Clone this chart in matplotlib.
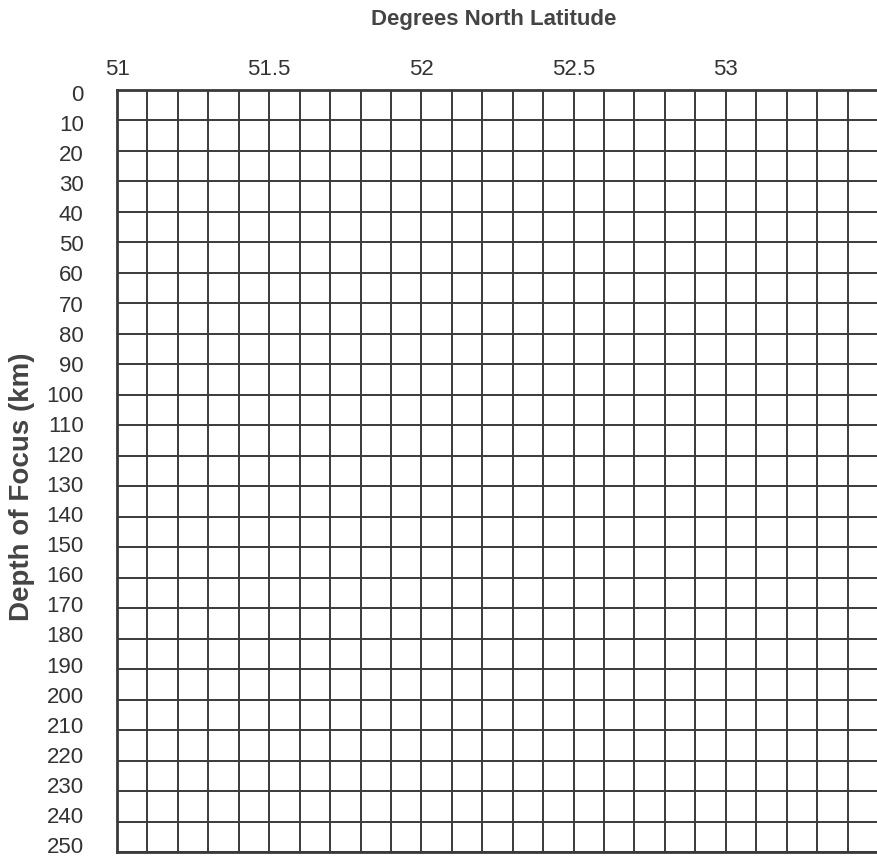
import matplotlib
matplotlib.use("Agg")
import matplotlib.pyplot as plt
import matplotlib.transforms as mtransforms
import numpy as np

plt.rcParams['font.family'] = ['Liberation Sans', 'DejaVu Sans']

# data
lat_ticks = [51, 51.5, 52, 52.5, 53]
lat_labels = ["51", "51.5", "52", "52.5", "53"]
lat_min, lat_max, lat_step = 51.0, 53.5, 0.1
depth_ticks = list(range(0, 260, 10))
depth_min, depth_max = 0, 250

fig = plt.figure(figsize=(8.78, 8.59), dpi=100)
ax = fig.add_axes([117/878, 1 - 852/859, 1 - 117/878, (852 - 90)/859])
ax.set_xlim(lat_min, lat_max)
ax.set_ylim(depth_max, depth_min)

gc = '#3a3a3a'
ax.set_xticks(lat_ticks)
ax.set_xticklabels(lat_labels)
ax.set_xticks(np.round(np.arange(lat_min, lat_max + 1e-9, lat_step), 2), minor=True)
ax.set_yticks(depth_ticks)
ax.xaxis.tick_top()
ax.tick_params(axis='x', which='both', length=0, pad=7, labelsize=16, labelcolor='#333333')
ax.tick_params(axis='y', which='both', length=0, pad=24, labelsize=16, labelcolor='#333333')
ax.grid(True, which='both', axis='x', color=gc, lw=1.4)
ax.grid(True, which='major', axis='y', color=gc, lw=1.4)
for s in ax.spines.values():
    s.set_color(gc)
    s.set_linewidth(2)
ax.spines['right'].set_visible(False)

# nudge depth labels: top ones slightly low, bottom ones slightly high (as in reference)
labels = ax.get_yticklabels()
n = len(labels)
for i, lab in enumerate(labels):
    dy = -3 + 10 * i / (n - 1)  # px, positive = up
    lab.set_transform(lab.get_transform() + mtransforms.ScaledTranslation(0, dy / 100, fig.dpi_scale_trans))

fig.text(494/878, 1 - 20/859, "Degrees North Latitude", ha='center', va='center',
         fontsize=16, fontweight='bold', color='#444444')
fig.text(22/878, 1 - 487/859, "Depth of Focus (km)", ha='center', va='center',
         rotation=90, fontsize=20, fontweight='bold', color='#444444')

fig.savefig("out.png", dpi=100)
